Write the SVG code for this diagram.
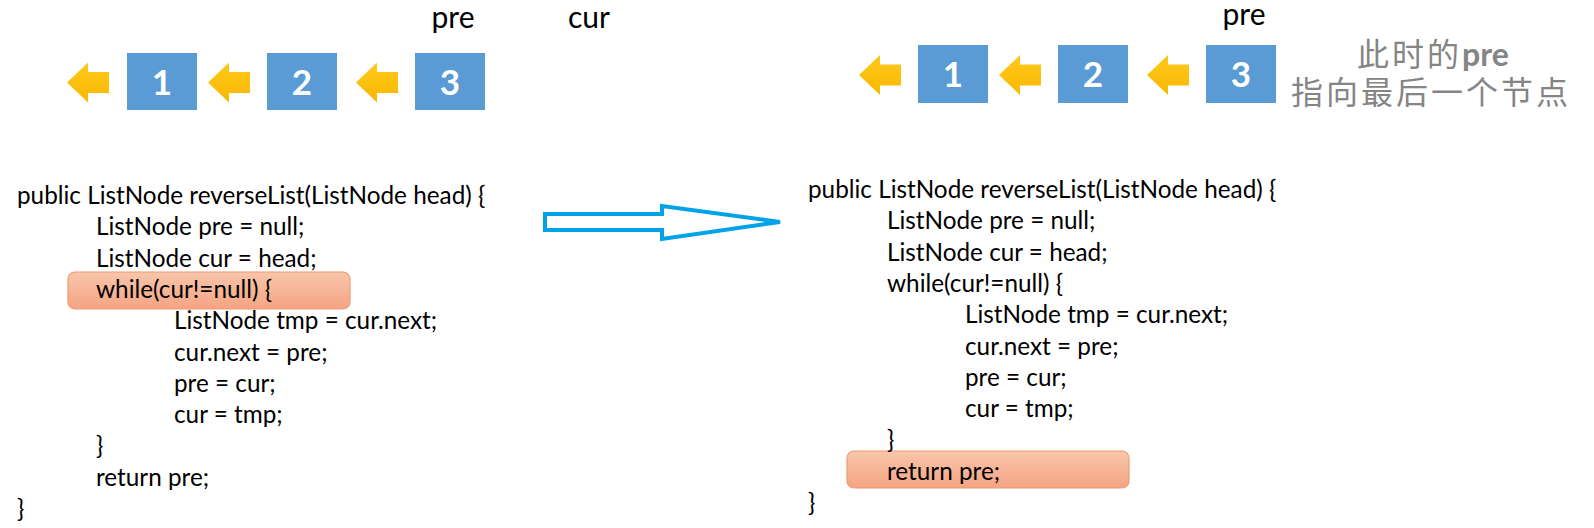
<svg xmlns="http://www.w3.org/2000/svg" width="1594" height="528" viewBox="0 0 1594 528">
<defs>
<linearGradient id="hl" x1="0" y1="0" x2="0" y2="1">
<stop offset="0" stop-color="#f9c6ac"/>
<stop offset="1" stop-color="#f4a482"/>
</linearGradient>
<linearGradient id="ya" x1="0" y1="0" x2="0" y2="1">
<stop offset="0" stop-color="#ffc81e"/>
<stop offset="1" stop-color="#f9b800"/>
</linearGradient>
<polygon id="yarrow" points="0,0 21,-20 21,-10.5 42,-10.5 42,10.5 21,10.5 21,20" fill="url(#ya)"/>
</defs>
<style>
.box{fill:#5b9bd5;}
.num{font-family:Lato,"Liberation Sans",sans-serif;font-size:35px;font-weight:bold;fill:#ffffff;text-anchor:middle;}
.lbl{font-family:Lato,"Liberation Sans",sans-serif;font-size:30px;fill:#000000;text-anchor:middle;}
.code{font-family:Lato,"Liberation Sans",sans-serif;font-size:24.3px;fill:#000000;}
.hl{fill:url(#hl);stroke:#ee9a72;stroke-width:1.2;}
.cn{font-family:"Noto Sans CJK SC",sans-serif;font-size:32px;fill:#858585;letter-spacing:3px;}
.cnb{font-family:Lato,"Noto Sans CJK SC",sans-serif;font-weight:bold;letter-spacing:0;}
.big{fill:#ffffff;stroke:#00a2e8;stroke-width:4;stroke-linejoin:miter;}
</style>
<rect width="1594" height="528" fill="#ffffff"/>

<g id="connectors">
<use href="#yarrow" x="67" y="82.5"/>
<use href="#yarrow" x="208" y="82.5"/>
<use href="#yarrow" x="356" y="82.5"/>
<use href="#yarrow" x="859" y="75"/>
<use href="#yarrow" x="999" y="75"/>
<use href="#yarrow" x="1147" y="75"/>
<polygon class="big" points="545,214 662,214 662,206 780,222 662,239 662,230 545,230"/>
</g>

<g id="left-label-pre"><text class="lbl" x="453" y="28">pre</text></g>
<g id="left-label-cur"><text class="lbl" x="589" y="28">cur</text></g>
<g id="left-node-1"><rect class="box" x="127" y="53" width="70" height="57"/><text class="num" x="162" y="95">1</text></g>
<g id="left-node-2"><rect class="box" x="267" y="53" width="70" height="57"/><text class="num" x="302" y="95">2</text></g>
<g id="left-node-3"><rect class="box" x="415" y="53" width="70" height="57"/><text class="num" x="450" y="95">3</text></g>

<g id="right-label-pre"><text class="lbl" x="1244" y="25">pre</text></g>
<g id="right-node-1"><rect class="box" x="918" y="45" width="70" height="58"/><text class="num" x="953" y="87">1</text></g>
<g id="right-node-2"><rect class="box" x="1058" y="45" width="70" height="58"/><text class="num" x="1093" y="87">2</text></g>
<g id="right-node-3"><rect class="box" x="1206" y="45" width="70" height="58"/><text class="num" x="1241" y="87">3</text></g>

<g id="note">
<text class="cn"><tspan x="1357" y="66">此时的</tspan><tspan class="cnb">pre</tspan><tspan x="1291" y="104">指向最后一个节点</tspan></text>
</g>

<g id="left-code">
<rect class="hl" x="68" y="272" width="282" height="37" rx="7"/>
<text class="code" x="17" y="204">public ListNode reverseList(ListNode head) {</text>
<text class="code" x="96" y="235.3">ListNode pre = null;</text>
<text class="code" x="96" y="266.6">ListNode cur = head;</text>
<text class="code" x="96" y="297.9">while(cur!=null) {</text>
<text class="code" x="174" y="329.2">ListNode tmp = cur.next;</text>
<text class="code" x="174" y="360.5">cur.next = pre;</text>
<text class="code" x="174" y="391.8">pre = cur;</text>
<text class="code" x="174" y="423.1">cur = tmp;</text>
<text class="code" x="96" y="454.4">}</text>
<text class="code" x="96" y="485.7">return pre;</text>
<text class="code" x="17" y="517">}</text>
</g>

<g id="right-code">
<rect class="hl" x="847" y="451" width="282" height="37" rx="7"/>
<text class="code" x="808" y="198">public ListNode reverseList(ListNode head) {</text>
<text class="code" x="887" y="229.3">ListNode pre = null;</text>
<text class="code" x="887" y="260.6">ListNode cur = head;</text>
<text class="code" x="887" y="291.9">while(cur!=null) {</text>
<text class="code" x="965" y="323.2">ListNode tmp = cur.next;</text>
<text class="code" x="965" y="354.5">cur.next = pre;</text>
<text class="code" x="965" y="385.8">pre = cur;</text>
<text class="code" x="965" y="417.1">cur = tmp;</text>
<text class="code" x="887" y="448.4">}</text>
<text class="code" x="887" y="479.7">return pre;</text>
<text class="code" x="808" y="511">}</text>
</g>
</svg>
